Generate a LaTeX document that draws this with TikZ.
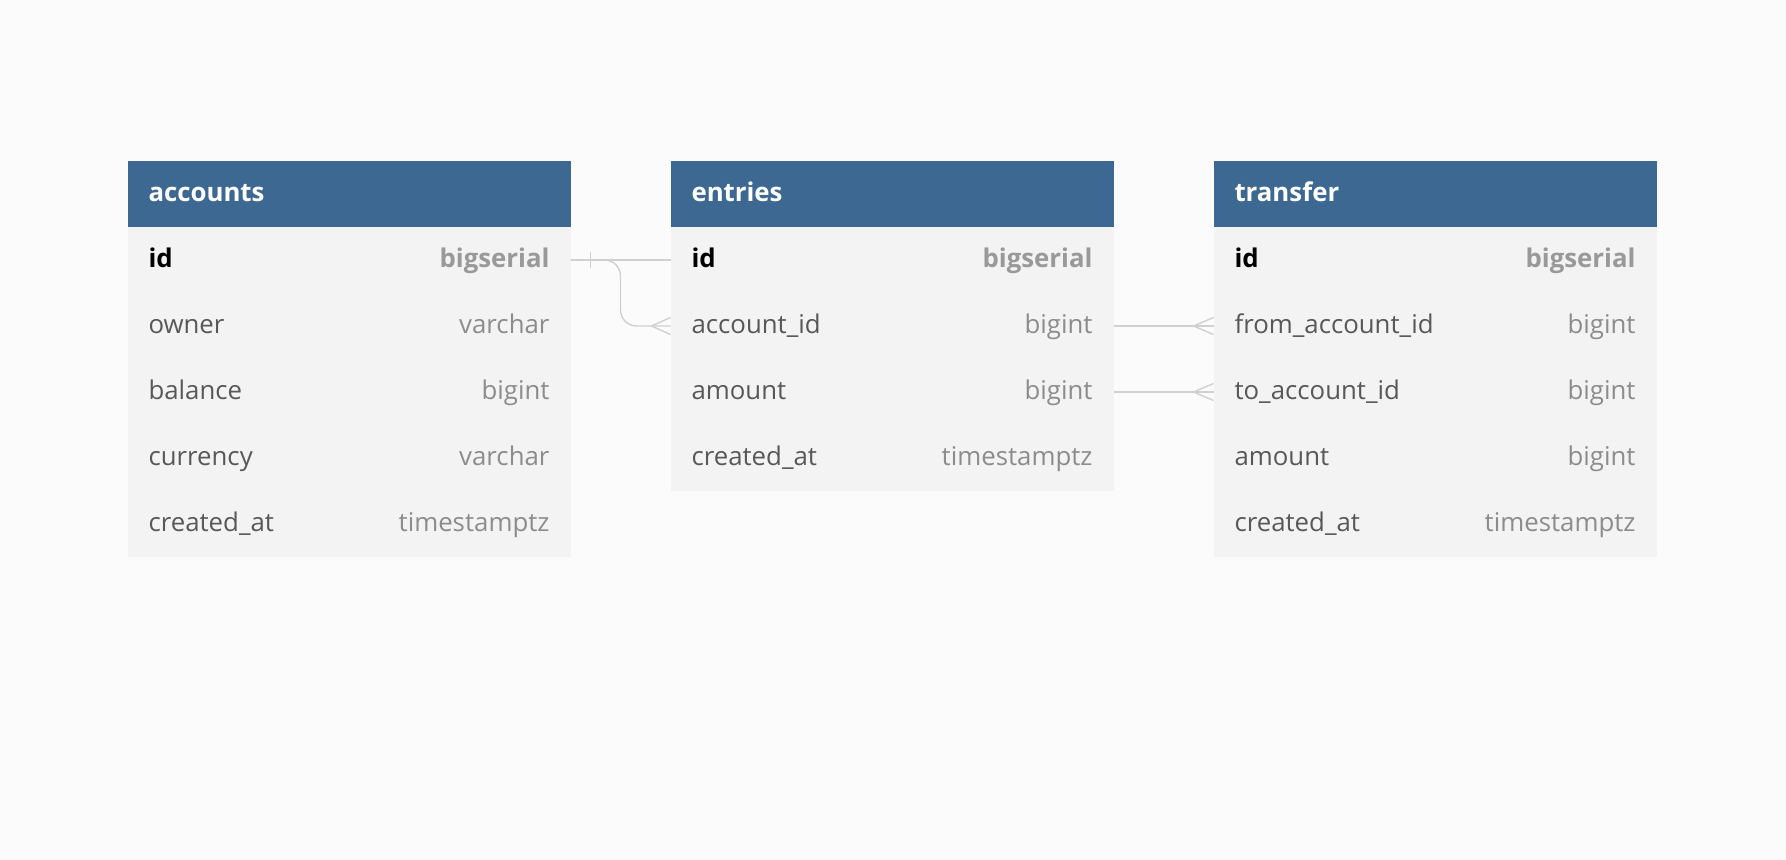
\documentclass[tikz,border=0pt]{standalone}
\usepackage{fontspec}
\setmainfont{Open Sans}
\usepackage{xcolor}
\usepackage{tikz}
\usetikzlibrary{positioning,calc}

\definecolor{headblue}{HTML}{3D6891}
\definecolor{rowgray}{HTML}{F3F3F3}
\definecolor{pagegray}{HTML}{FBFBFB}
\definecolor{namegray}{HTML}{585858}
\definecolor{typegray}{HTML}{8C8C8C}
\definecolor{keygray}{HTML}{999999}
\definecolor{linkgray}{HTML}{D0D0D0}

\newcommand{\dbhead}[1]{\makebox[200.5pt][l]{#1}}
\newcommand{\dbkey}[2]{\makebox[200.5pt]{\bfseries\color{black}#1\hfill\color{keygray}#2}}
\newcommand{\dbrow}[2]{\makebox[200.5pt]{\color{namegray}#1\hfill\color{typegray}#2}}

\begin{document}
\begin{tikzpicture}[
    x=0.5pt, y=-0.5pt,
    node distance=0pt and 50pt,
    cell/.style={minimum width=221.5pt, minimum height=33pt, inner xsep=10.5pt, inner ysep=0pt,
        outer sep=0pt, text height=10pt, text depth=2.4pt, font=\fontsize{12.9pt}{15pt}\selectfont},
    head/.style={cell, fill=headblue, text=white, font=\fontsize{12.9pt}{15pt}\selectfont\bfseries},
    row/.style={cell, fill=rowgray},
    link/.style={draw=linkgray, line width=0.7pt}
]
\fill[pagegray] (0,0) rectangle (1786,860);
\useasboundingbox (0,0) rectangle (1786,860);

% accounts
\node[head, anchor=north west] (accounts) at (127.5,161) {\dbhead{accounts}};
\node[row, below=of accounts] (accounts-id) {\dbkey{id}{bigserial}};
\node[row, below=of accounts-id] (accounts-owner) {\dbrow{owner}{varchar}};
\node[row, below=of accounts-owner] (accounts-balance) {\dbrow{balance}{bigint}};
\node[row, below=of accounts-balance] (accounts-currency) {\dbrow{currency}{varchar}};
\node[row, below=of accounts-currency] (accounts-created) {\dbrow{created\_at}{timestamptz}};

% entries
\node[head, right=of accounts] (entries) {\dbhead{entries}};
\node[row, below=of entries] (entries-id) {\dbkey{id}{bigserial}};
\node[row, below=of entries-id] (entries-account) {\dbrow{account\_id}{bigint}};
\node[row, below=of entries-account] (entries-amount) {\dbrow{amount}{bigint}};
\node[row, below=of entries-amount] (entries-created) {\dbrow{created\_at}{timestamptz}};

% transfer
\node[head, right=of entries] (transfer) {\dbhead{transfer}};
\node[row, below=of transfer] (transfer-id) {\dbkey{id}{bigserial}};
\node[row, below=of transfer-id] (transfer-from) {\dbrow{from\_account\_id}{bigint}};
\node[row, below=of transfer-from] (transfer-to) {\dbrow{to\_account\_id}{bigint}};
\node[row, below=of transfer-to] (transfer-amount) {\dbrow{amount}{bigint}};
\node[row, below=of transfer-amount] (transfer-created) {\dbrow{created\_at}{timestamptz}};

% relations
\draw[link] (accounts-id.east) -- (entries-id.west);
\draw[link] ($(accounts-id.east)+(20,-8)$) -- ++(0,16);
\draw[link, rounded corners=8pt] (accounts-id.east) -- ++(50,0) |- (entries-account.west);
\draw[link] ($(entries-account.west)+(-19,0)$) -- ++(19,-8.5)
            ($(entries-account.west)+(-19,0)$) -- ++(19,8.5);
\draw[link] (entries-account.east) -- (transfer-from.west);
\draw[link] ($(transfer-from.west)+(-20,0)$) -- ++(20,-8.5)
            ($(transfer-from.west)+(-20,0)$) -- ++(20,8.5);
\draw[link] (entries-amount.east) -- (transfer-to.west);
\draw[link] ($(transfer-to.west)+(-20,0)$) -- ++(20,-8.5)
            ($(transfer-to.west)+(-20,0)$) -- ++(20,8.5);
\end{tikzpicture}
\end{document}
